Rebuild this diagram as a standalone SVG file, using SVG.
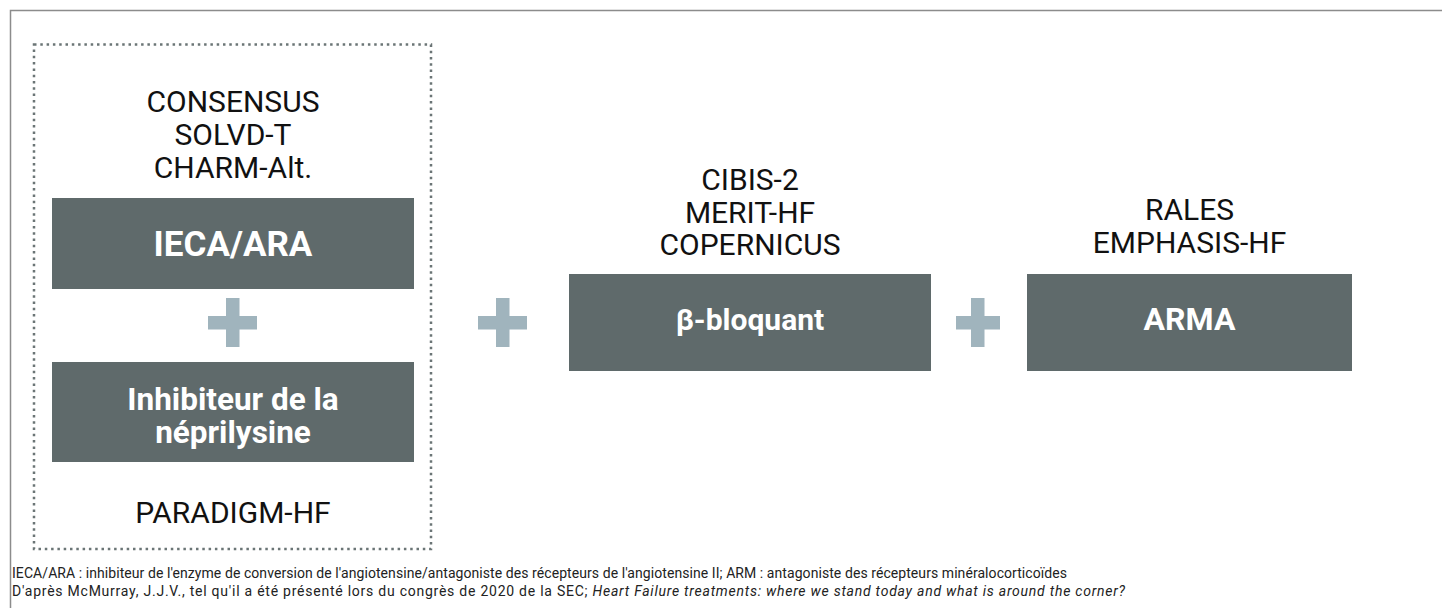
<svg xmlns="http://www.w3.org/2000/svg" width="1442" height="608" viewBox="0 0 1442 608">
<style>
.frame{fill:none;stroke:#8c8c8c;stroke-width:1.5}
.dot{fill:none;stroke:#6b7576;stroke-width:2.5;stroke-dasharray:2.5 3.8}
.box{fill:#5f6a6b}
.plus{fill:#a0b4bd}
.lbl{font-family:Roboto,"Liberation Sans",sans-serif;font-size:30px;fill:#111;text-anchor:middle}
.bt{font-family:Roboto,"Liberation Sans",sans-serif;font-weight:bold;fill:#fff;text-anchor:middle}
.fn{font-family:Roboto,"Liberation Sans",sans-serif;font-size:14px;fill:#222}
</style>
<rect width="1442" height="608" fill="#fff"/>
<path class="frame" d="M10.5 608 V10.5 H1442"/>
<rect class="dot" x="34" y="44.5" width="397" height="504.5"/>
<g id="ieca">
<text class="lbl" x="233" y="112">CONSENSUS</text>
<text class="lbl" x="233" y="145">SOLVD-T</text>
<text class="lbl" x="233" y="178">CHARM-Alt.</text>
<rect class="box" x="52" y="198" width="362" height="91"/>
<text class="bt" x="233" y="256" font-size="35">IECA/ARA</text>
</g>
<g id="plus1"><rect class="plus" x="226" y="298" width="13.5" height="49"/><rect class="plus" x="208" y="316" width="49" height="13.5"/></g>
<g id="nep">
<rect class="box" x="52" y="362" width="362" height="100"/>
<text class="bt" x="233" y="410" font-size="31.5">Inhibiteur de la</text>
<text class="bt" x="233" y="443" font-size="31.5">néprilysine</text>
<text class="lbl" x="233" y="523">PARADIGM-HF</text>
</g>
<g id="plus2"><rect class="plus" x="496" y="298" width="13.5" height="49"/><rect class="plus" x="478" y="316" width="49" height="13.5"/></g>
<g id="beta">
<text class="lbl" x="750" y="190">CIBIS-2</text>
<text class="lbl" x="750" y="223">MERIT-HF</text>
<text class="lbl" x="750" y="255">COPERNICUS</text>
<rect class="box" x="569" y="274" width="362" height="97"/>
<text class="bt" x="750" y="330" font-size="30">β-bloquant</text>
</g>
<g id="plus3"><rect class="plus" x="971" y="298" width="13.5" height="49"/><rect class="plus" x="956" y="316" width="44" height="13.5"/></g>
<g id="arma">
<text class="lbl" x="1189.5" y="220">RALES</text>
<text class="lbl" x="1189.5" y="253">EMPHASIS-HF</text>
<rect class="box" x="1027" y="274" width="325" height="97"/>
<text class="bt" x="1189.5" y="330" font-size="32">ARMA</text>
</g>
<g id="connectors"></g>
<text class="fn" x="12" y="578" textLength="1055" lengthAdjust="spacing">IECA/ARA : inhibiteur de l'enzyme de conversion de l'angiotensine/antagoniste des récepteurs de l'angiotensine II; ARM : antagoniste des récepteurs minéralocorticoïdes</text>
<text class="fn" x="12" y="596" textLength="1113" lengthAdjust="spacing">D'après McMurray, J.J.V., tel qu'il a été présenté lors du congrès de 2020 de la SEC; <tspan font-style="italic">Heart Failure treatments: where we stand today and what is around the corner?</tspan></text>
</svg>
